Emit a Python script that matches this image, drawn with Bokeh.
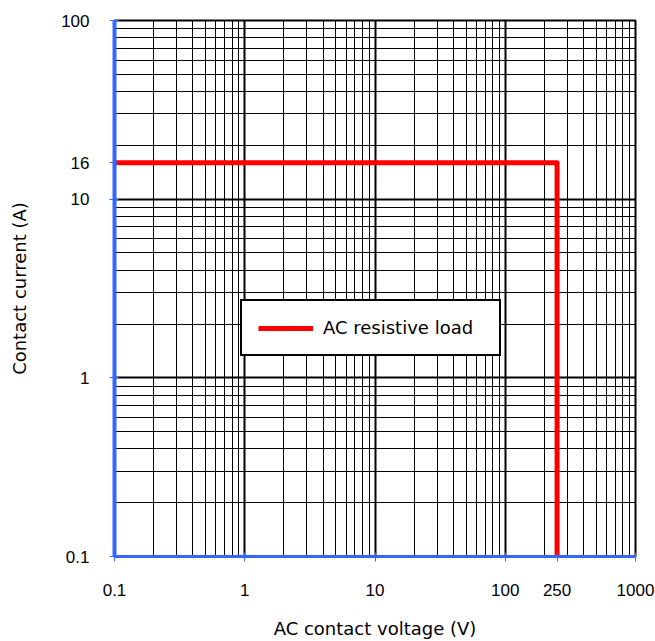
from bokeh.plotting import figure
from bokeh.models import FixedTicker, Legend, LegendItem, Range1d
from bokeh.embed import file_html
from bokeh.resources import INLINE

# Data
load_voltage = [0.1, 250, 250]
load_current = [16, 16, 0.1]
series_name = "AC resistive load"

x_ticks = [0.1, 1, 10, 100, 250, 1000]
x_tick_labels = ["0.1", "1", "10", "100", "250", "1000"]
y_ticks = [0.1, 1, 10, 16, 100]
y_tick_labels = ["0.1", "1", "10", "16", "100"]

x_decades = [0.1, 1, 10, 100, 1000]
y_decades = [0.1, 1, 10, 100]
mantissas = [2, 3, 4, 5, 6, 7, 8, 9]
x_minor = [d * m for d in x_decades[:-1] for m in mantissas]
y_minor = [d * m for d in y_decades[:-1] for m in mantissas]

BLUE = "#3366ff"
TICK_FONT = "Liberation Sans"
TITLE_FONT = "DejaVu Sans"

p = figure(width=655, height=641, x_axis_type="log", y_axis_type="log",
           x_range=Range1d(0.1, 1000), y_range=Range1d(0.1, 100),
           output_backend="svg", toolbar_location=None,
           min_border_left=114, min_border_right=20, min_border_top=20,
           min_border_bottom=85)
p.background_fill_color = "white"
p.border_fill_color = "white"
p.outline_line_color = "black"
p.outline_line_width = 2

# grid
p.xgrid.ticker = FixedTicker(ticks=x_decades, minor_ticks=x_minor)
p.ygrid.ticker = FixedTicker(ticks=y_decades, minor_ticks=y_minor)
for g in (p.xgrid, p.ygrid):
    g.grid_line_color = "black"
    g.grid_line_width = 2
    g.grid_line_alpha = 1.0
    g.minor_grid_line_color = "black"
    g.minor_grid_line_width = 1
    g.minor_grid_line_alpha = 1.0

# axes
p.xaxis.ticker = FixedTicker(ticks=x_ticks, minor_ticks=[])
p.yaxis.ticker = FixedTicker(ticks=y_ticks, minor_ticks=[])
p.xaxis.major_label_overrides = {t: s for t, s in zip(x_ticks, x_tick_labels)}
p.yaxis.major_label_overrides = {t: s for t, s in zip(y_ticks, y_tick_labels)}
for ax in (p.xaxis, p.yaxis):
    ax.axis_line_color = BLUE
    ax.major_tick_line_color = BLUE
    ax.major_tick_line_width = 1
    ax.minor_tick_line_color = None
    ax.major_tick_in = 4
    ax.major_tick_out = 5
    ax.major_label_text_font = TICK_FONT
    ax.major_label_text_font_size = "17px"
    ax.major_label_text_color = "black"
    ax.axis_label_text_font = TITLE_FONT
    ax.axis_label_text_font_size = "18px"
    ax.axis_label_text_font_style = "normal"
    ax.axis_label_text_color = "black"
p.xaxis.axis_line_width = 3
p.yaxis.axis_line_width = 4
p.xaxis.major_label_standoff = 22
p.yaxis.major_label_standoff = 20
p.xaxis.axis_label = "AC contact voltage (V)"
p.yaxis.axis_label = "Contact current (A)"
p.xaxis.axis_label_standoff = 19
p.yaxis.axis_label_standoff = 28

r = p.line(load_voltage, load_current, line_color="#ff0000", line_width=5,
           line_join="round")

legend = Legend(items=[LegendItem(label=series_name, renderers=[r])],
                location=(126, 200), orientation="vertical",
                border_line_color="black", border_line_width=2,
                border_line_alpha=1.0,
                background_fill_color="white", background_fill_alpha=1.0,
                padding=16, glyph_width=55, glyph_height=16, label_height=16,
                label_width=160, label_standoff=10, label_text_font=TITLE_FONT,
                label_text_font_size="18px", label_text_color="black",
                margin=0)
p.add_layout(legend, "center")

open("out.html", "w").write(file_html(p, INLINE))
